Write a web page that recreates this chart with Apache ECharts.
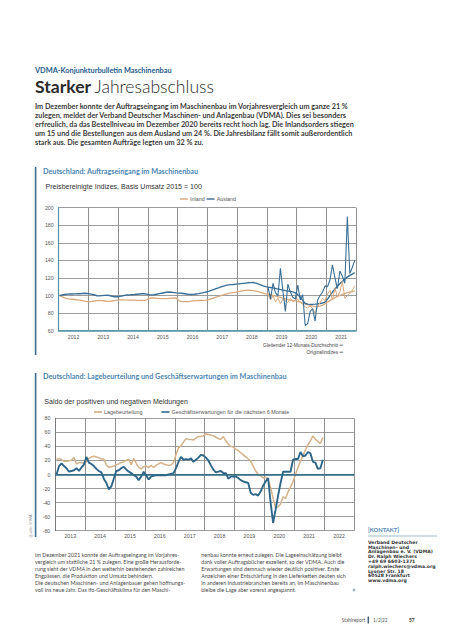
<!DOCTYPE html>
<html><head><meta charset="utf-8">
<script src="https://cdn.jsdelivr.net/npm/echarts@6/dist/echarts.min.js"></script>
<style>html,body{margin:0;padding:0;background:#fff}#c{width:453px;height:640px}</style>
</head><body><div id="c"></div>
<script>
// ---------- Chart 1: Auftragseingang ----------
const years1 = ['2012','2013','2014','2015','2016','2017','2018','2019','2020','2021'];
const yTicks1 = [60, 200, 20]; // min, max, interval
// 12-month moving averages (monthly, Jan 2012 - Dec 2021)
const inlandMA = [
 100.0,98.5,97.2,96.4,96.0,95.8,95.5,95.2,94.8,94.2,93.6,93.2,
 93.0,93.3,93.8,94.2,94.4,94.2,93.8,93.4,93.4,93.8,94.3,94.8,
 95.0,95.2,95.0,94.9,94.8,94.8,94.7,94.6,94.5,94.4,94.6,95.2,
 96.6,97.4,97.2,96.9,96.7,96.5,96.4,96.5,96.8,97.0,97.2,97.0,
 94.2,93.4,93.2,93.0,93.2,93.6,93.9,94.2,94.4,94.5,94.6,94.8,
 95.4,96.2,97.2,98.2,99.2,100.0,100.8,101.6,102.4,103.0,103.4,103.8,
 104.4,105.0,105.6,106.0,106.2,106.0,105.6,105.0,104.4,103.6,102.8,102.0,
 101.5,101.0,100.2,99.4,98.6,97.8,97.0,96.2,95.4,94.8,94.4,94.0,
 93.2,92.4,91.4,90.4,89.6,88.8,88.0,87.6,87.4,88.0,89.2,90.6,
 92.4,94.2,96.0,97.6,99.0,100.2,101.4,102.4,103.2,104.0,104.6,105.2
];
const auslandMA = [
 100.0,100.6,101.2,101.6,101.8,101.8,101.9,102.0,102.0,102.3,102.6,102.4,
 101.9,101.3,100.6,99.8,99.6,99.9,100.2,100.3,100.0,99.2,98.6,98.6,
 99.0,99.5,100.2,100.6,100.8,101.0,101.2,101.5,101.8,102.0,102.0,101.6,
 101.0,100.8,100.9,101.5,102.2,102.6,103.2,103.8,104.0,103.8,103.4,103.0,
 102.8,102.6,102.3,101.8,101.3,101.2,101.4,101.8,102.2,102.8,103.4,104.0,
 104.8,105.8,106.8,107.8,108.8,109.8,110.8,111.6,112.2,112.4,112.6,113.0,
 113.3,113.6,113.9,114.2,114.5,114.7,114.8,114.2,113.2,112.2,111.0,110.2,
 109.6,109.2,108.8,108.2,107.4,106.8,106.2,105.6,105.2,104.8,104.2,103.0,
 101.0,98.5,94.5,91.0,90.2,90.0,90.0,90.2,90.5,91.0,91.5,92.5,
 96.0,100.0,104.0,107.5,110.5,113.5,116.0,118.5,121.0,123.0,124.5,126.0
];
// original indices (monthly, Jan 2019 - Dec 2021)
const origStartYear = '2019';
const inlandOrig = [
 101,95,100,93,97,91,96,94,92,97,93,95,
 96,92,90,87,86,88,85,80,88,92,97,94,
 102,106,95,108,99,104,116,97,100,103,106,111
];
const auslandOrig = [
 110,96,114,103,100,131,105,82,113,104,98,96,
 112,95,101,66,68,82,85,71,95,100,104,111,
 110,118,135,120,108,128,122,114,190,125,132,140
];

// ---------- Chart 2: Lagebeurteilung / Geschäftserwartungen ----------
const years2 = ['2013','2014','2015','2016','2017','2018','2019','2020','2021','2022'];
const yTicks2 = [-80, 80, 20];
const lage = [
 21,23,21,19,19,19.5,20.5,24,15,17,17,16,
 18,23,25,26,25,24,22,22,14,10,11,12,
 14,15,17,18,20,22,13.5,23,16,10,8,11,
 12,10,13,10,13,15,17,15,14,13,13.5,17,
 28,38,41,46,51,50,50,49,52,54,54,55,
 58,57,56,55,53,51,50,54,48,43,40,39,
 36,34,31,28,25,22,19,12,5,0,-2,-5,
 -4,-8,-18,-34,-47,-46,-42,-32,-34,-25,-18,-10,
 0,10,19,27,35,42,48,55,50,47,44,53
];
const erwart = [
 0,12,16,12,9,4,5,6,9,5,10,14,
 25,17,15,12,8,5,3,-6,-12,-21,-17,-6,
 5,6,9,11,7,4,2,-1,-3,-8,-3,4,
 -1,-7,-3,-2,-1,-1,-1,-1,-1,0,1,2,
 9,18,25,21,22,21,23,18,21,24,28,27,
 24,20,13,7,3,4,5,2,2,-6,-3,-3,
 -3,-5,-8,-10,-11,-12,-26,-29,-28,-30,-24,-16,
 -10,-5,-40,-69,-50,-30,-12,4,4,4,4,21,
 22,22,32,26,27,32,30,18,17,8,9,21
];

// ---------- texts ----------
const kicker = 'VDMA-Konjunkturbulletin Maschinenbau';
const titleBold = 'Starker', titleLight = 'Jahresabschluss';
const leadLines = [
 'Im Dezember konnte der Auftragseingang im Maschinenbau im Vorjahresvergleich um ganze 21 %',
 'zulegen, meldet der Verband Deutscher Maschinen- und Anlagenbau (VDMA). Dies sei besonders',
 'erfreulich, da das Bestellniveau im Dezember 2020 bereits recht hoch lag. Die Inlandsorders stiegen',
 'um 15 und die Bestellungen aus dem Ausland um 24 %. Die Jahresbilanz fällt somit außerordentlich',
 'stark aus. Die gesamten Aufträge legten um 32 % zu.'
];
const title1 = 'Deutschland: Auftragseingang im Maschinenbau';
const sub1 = 'Preisbereinigte Indizes, Basis Umsatz 2015 = 100';
const note1 = ['Gleitender 12-Monats-Durchschnitt ═', 'Originalindizes ═'];
const title2 = 'Deutschland: Lagebeurteilung und Geschäftserwartungen im Maschinenbau';
const sub2 = 'Saldo der positiven und negativen Meldungen';
const col1 = [
 'Im Dezember 2021 konnte der Auftragseingang im Vorjahres-',
 'vergleich um stattliche 21 % zulegen. Eine große Herausforde-',
 'rung sieht der VDMA in den weiterhin bestehenden zahlreichen',
 'Engpässen, die Produktion und Umsatz behindern.',
 'Die deutschen Maschinen- und Anlagenbauer gehen hoffnungs-',
 'voll ins neue Jahr. Das ifo-Geschäftsklima für den Maschi-'
];
const col2 = [
 'nenbau konnte erneut zulegen. Die Lageeinschätzung bleibt',
 'dank voller Auftragsbücher exzellent, so der VDMA. Auch die',
 'Erwartungen sind demnach wieder deutlich positiver. Erste',
 'Anzeichen einer Entschärfung in den Lieferketten deuten sich',
 'in anderen Industriebranchen bereits an, im Maschinenbau',
 'bleibe die Lage aber vorerst angespannt.'
];
const contact = ['Verband Deutscher','Maschinen- und','Anlagenbau e. V. (VDMA)','Dr. Ralph Wiechers',
 '+49 69 6603-1371','ralph.wiechers@vdma.org','Lyoner Str. 18','60528 Frankfurt','www.vdma.org'];

// ---------- build ----------
const months = ys => ys.flatMap(y => ['01','02','03','04','05','06','07','08','09','10','11','12'].map(m => y + '-' + m));
const months1 = months(years1);
const months2 = months(years2);
const origOffset = months1.indexOf(origStartYear + '-01');

const TAN = '#d8aa7f', BLUE = '#3c6f95';
const TAN2 = '#d4b28a', BLUE2 = '#2d6689';
const TEAL = '#4f95a8';
const AX = 'Liberation Sans, Arial, sans-serif';
const HUM = 'Lato, sans-serif';
const WIDE = 'DejaVu Sans, sans-serif';

// font-size fitting so that text spans the same width as in the reference
const mctx = document.createElement('canvas').getContext('2d');
function measure(text, weight, family) { mctx.font = weight + ' 100px ' + family; return mctx.measureText(text).width / 100; }
function fit(text, target, weight, family) { return target / measure(text, weight, family); }

const fsKicker = fit(kicker, 137, 'bold', HUM);
const fsTitle = 180 / (measure(titleBold + ' ', 'bold', HUM) + measure(titleLight, '300', HUM));
const fsLead = (fit(leadLines[0], 313, 'bold', HUM) + fit(leadLines[2], 320, 'bold', HUM) + fit(leadLines[3], 318, 'bold', HUM)) / 3;
const fsCT = (fit(title1, 156, 'bold', HUM) + fit(title2, 243, 'bold', HUM)) / 2;
const fsSub = (fit(sub1, 155, 'normal', AX) + fit(sub2, 145, 'normal', AX)) / 2;
const fsNote = fit(note1[0], 80, 'normal', AX);
const fsBody = (fit(col1[2], 154, 'normal', HUM) + fit(col2[3], 141, 'normal', HUM)) / 2;
const fsContact = Math.min(4.6, fit(contact[5], 68, 'bold', WIDE));
const fsFoot = fit('Stahlreport', 23.5, 'normal', HUM);
const fsAxis = fit('2012', 11.7, 'normal', AX);
const fsLeg = (fit('Lagebeurteilung', 39, 'normal', AX) + fit('Geschäftserwartungen für die nächsten 6 Monate', 117, 'normal', AX)) / 2;

function txt(x, y, text, size, opts) {
  opts = opts || {};
  return { type: 'text', x: x, y: y, silent: true, rotation: opts.rot || 0,
    style: { text: text, fill: opts.color || '#333', fontSize: size, fontFamily: opts.family || HUM,
      fontWeight: opts.weight || 'normal', textAlign: opts.align || 'left', textVerticalAlign: 'middle' } };
}
const g = [];
g.push(txt(35, 70, kicker, fsKicker, { color: '#1e5b8c', weight: 'bold' }));
g.push({ type: 'text', x: 35, y: 86, silent: true, style: { text: '{b|' + titleBold + '} {l|' + titleLight + '}', textVerticalAlign: 'middle',
  rich: { b: { fontSize: fsTitle, fontWeight: 'bold', fontFamily: HUM, fill: '#2b2b2b', color: '#2b2b2b' },
          l: { fontSize: fsTitle, fontWeight: 300, fontFamily: HUM, fill: '#2b2b2b', color: '#2b2b2b' } } } });
leadLines.forEach((l, i) => g.push(txt(35, 106.7 + i * 9, l, fsLead, { color: '#3a3a3a', weight: 'bold' })));

// chart 1 frame texts
g.push({ type: 'rect', shape: { x: 34.8, y: 167, width: 1.6, height: 188 }, style: { fill: '#3f6f8f' }, silent: true });
g.push(txt(43, 171, title1, fsCT, { color: '#4d86b3', weight: 'bold' }));
g.push(txt(45.5, 186.7, sub1, fsSub, { color: '#333', family: AX }));
g.push(txt(343, 345, note1[0], fsNote, { color: '#444', family: AX, align: 'right' }));
g.push(txt(343, 352.7, note1[1], fsNote, { color: '#444', family: AX, align: 'right' }));

// chart 2 frame texts
g.push({ type: 'rect', shape: { x: 34.8, y: 373, width: 1.6, height: 164 }, style: { fill: '#3f6f8f' }, silent: true });
g.push(txt(43, 376, title2, fsCT, { color: '#4d86b3', weight: 'bold' }));
g.push(txt(44.3, 401.7, sub2, fsSub, { color: '#333', family: AX }));
g.push(txt(30.5, 526, 'Quelle: VDMA', 3.6, { color: '#888', family: AX, align: 'center', rot: Math.PI / 2 }));

// body columns
col1.forEach((l, i) => g.push(txt(35, 555 + i * 7, l, fsBody, { color: '#4a4a4a' })));
col2.forEach((l, i) => g.push(txt(201.3, 555 + i * 7, l, fsBody, { color: '#4a4a4a' })));
g.push({ type: 'circle', shape: { cx: 354, cy: 590, r: 1.4 }, style: { fill: '#9ab6cc' }, silent: true });

// contact
g.push(txt(368, 529.3, '[KONTAKT]', 5.8, { color: '#4d86b3', weight: 'bold' }));
g.push({ type: 'line', shape: { x1: 368, y1: 536, x2: 437, y2: 536 }, style: { stroke: '#8aa9bf', lineWidth: 0.8 }, silent: true });
contact.forEach((l, i) => g.push(txt(368, 542.3 + i * 4.8, l, fsContact, { color: '#333', weight: 'bold', family: WIDE })));

// footer
g.push(txt(341.7, 620, 'Stahlreport', fsFoot, { color: '#555' }));
g.push({ type: 'rect', shape: { x: 367.6, y: 616.5, width: 1.3, height: 7 }, style: { fill: '#2f4f66' }, silent: true });
g.push(txt(373, 620, '1/2|22', fsFoot, { color: '#555' }));
g.push(txt(409, 620, '57', fsFoot, { color: '#333', weight: 'bold' }));

const axLabel = { fontSize: fsAxis, color: '#555', fontFamily: AX };
const option = {
  animation: false,
  backgroundColor: '#fff',
  grid: [
    { left: 58.7, top: 207.7, width: 297.3, height: 123 },
    { left: 55.3, top: 418.3, width: 298.7, height: 112.4 }
  ],
  legend: [
    { data: ['Inland', 'Ausland'], left: 180, top: 196.5, padding: 0, itemWidth: 8, itemHeight: 1.4, itemGap: 2, icon: 'rect',
      textStyle: { fontSize: fsLeg, color: '#555', fontFamily: AX, padding: [0, 0, 0, -3] } },
    { data: ['Lagebeurteilung', 'Geschäftserwartungen für die nächsten 6 Monate'], left: 94, top: 409.5, padding: 0,
      itemWidth: 8, itemHeight: 1.6, itemGap: 19, icon: 'rect',
      textStyle: { fontSize: fsLeg, color: '#555', fontFamily: AX, padding: [0, 0, 0, -3] } }
  ],
  xAxis: [
    { gridIndex: 0, type: 'category', data: years1, boundaryGap: true,
      axisLine: { lineStyle: { color: TEAL, width: 1.6 } }, axisTick: { show: false },
      axisLabel: Object.assign({ margin: 4 }, axLabel),
      splitLine: { show: true, lineStyle: { color: '#8e8e8e', width: 1 } } },
    { gridIndex: 0, type: 'category', data: months1, boundaryGap: true, show: false },
    { gridIndex: 1, type: 'category', data: years2, boundaryGap: true,
      axisLine: { lineStyle: { color: '#7a7a7a', width: 1 } }, axisTick: { show: false },
      axisLabel: Object.assign({ margin: 3 }, axLabel),
      splitLine: { show: true, lineStyle: { color: '#8e8e8e', width: 1 } } },
    { gridIndex: 1, type: 'category', data: months2, boundaryGap: true, show: false }
  ],
  yAxis: [
    { gridIndex: 0, type: 'value', min: yTicks1[0], max: yTicks1[1], interval: yTicks1[2],
      axisLine: { show: true, lineStyle: { color: TEAL, width: 1.2 } }, axisTick: { show: false },
      axisLabel: Object.assign({ margin: 5 }, axLabel),
      splitLine: { lineStyle: { color: '#9c9c9c', width: 1 } } },
    { gridIndex: 1, type: 'value', min: yTicks2[0], max: yTicks2[1], interval: yTicks2[2],
      axisLine: { show: true, lineStyle: { color: '#7a7a7a', width: 1 } }, axisTick: { show: false },
      axisLabel: Object.assign({ margin: 5 }, axLabel),
      splitLine: { lineStyle: { color: '#9c9c9c', width: 1 } } }
  ],
  series: [
    { name: 'Inland', type: 'line', xAxisIndex: 1, yAxisIndex: 0, data: inlandMA, showSymbol: false,
      color: TAN, lineStyle: { color: TAN, width: 1.3 } },
    { name: 'Ausland', type: 'line', xAxisIndex: 1, yAxisIndex: 0, data: auslandMA, showSymbol: false,
      color: BLUE, lineStyle: { color: BLUE, width: 1.4 } },
    { name: 'Inland', type: 'line', xAxisIndex: 1, yAxisIndex: 0, showSymbol: false,
      data: inlandOrig.map((v, i) => [months1[origOffset + i], v]), color: TAN, lineStyle: { color: TAN, width: 1 } },
    { name: 'Ausland', type: 'line', xAxisIndex: 1, yAxisIndex: 0, showSymbol: false,
      data: auslandOrig.map((v, i) => [months1[origOffset + i], v]), color: BLUE, lineStyle: { color: BLUE, width: 1.1 } },
    { name: 'Lagebeurteilung', type: 'line', xAxisIndex: 3, yAxisIndex: 1, data: lage, showSymbol: false,
      color: TAN2, lineStyle: { color: TAN2, width: 1.5 } },
    { name: 'Geschäftserwartungen für die nächsten 6 Monate', type: 'line', xAxisIndex: 3, yAxisIndex: 1, data: erwart,
      showSymbol: false, color: BLUE2, lineStyle: { color: BLUE2, width: 1.9 }, z: 3,
      markLine: { silent: true, symbol: 'none', label: { show: false }, lineStyle: { color: '#2c6b84', width: 1.5, type: 'solid' },
        data: [{ yAxis: 0 }] } }
  ],
  graphic: g
};
const chart = echarts.init(document.getElementById('c'), null, { renderer: 'svg', width: 453, height: 640 });
chart.setOption(option);
</script></body></html>
